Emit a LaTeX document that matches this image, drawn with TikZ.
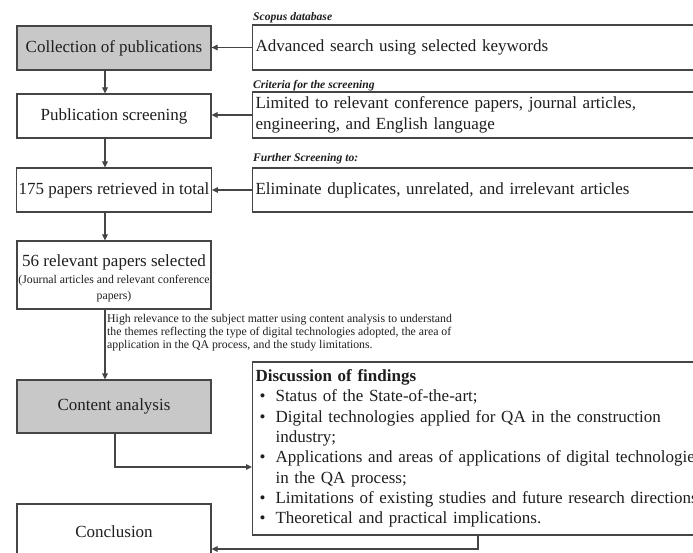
\documentclass[tikz,border=0pt]{standalone}
\usepackage{fontspec}
\setmainfont{Liberation Serif}
\usetikzlibrary{arrows.meta}
\definecolor{lc}{HTML}{454545}
\definecolor{gf}{HTML}{C8C8C8}
\definecolor{tc}{HTML}{1E1E1E}
\newcommand\fsz[2]{\fontsize{#1pt}{#2pt}\selectfont}
\newcommand\bul{\makebox[20pt][l]{\hspace{4pt}\textbullet}}
\begin{document}
\begin{tikzpicture}[x=1pt,y=-1pt,
  box/.style={draw=lc, line width=1.1pt, text=tc, inner sep=2pt, font=\fsz{17}{20.3}},
  lbox/.style={box, minimum width=194pt, align=center},
  rbox/.style={box, minimum width=560pt, text width=554pt, inner xsep=3pt, align=left, anchor=west},
  arr/.style={draw=lc, line width=1.1pt, -{Triangle[length=6pt,width=5.5pt]}},
  lab/.style={font=\fsz{11.6}{13}\bfseries\itshape, text=tc, inner sep=0pt, anchor=base west},
  txt/.style={text=tc, inner sep=0pt}]
\useasboundingbox[fill=white] (0,0) rectangle (693,553);
% left column
\node[lbox, fill=gf, minimum height=44pt] (c1) at (114,48) {Collection of publications};
\node[lbox, minimum height=44pt] (c2) at (114,116) {Publication screening};
\node[lbox, minimum height=44pt] (c3) at (114,190) {175 papers retrieved in total};
\node[lbox, minimum height=68pt] (c4) at (114,275) {};
\node[txt, font=\fsz{17}{20}] (t4a) at (114,262) {56 relevant papers selected};
\node[txt, align=center, font=\fsz{11.8}{16}] (t4b) at (114,288.5) {(Journal articles and relevant conference\\papers)};
\node[lbox, fill=gf, minimum height=53pt] (c5) at (114,406.5) {Content analysis};
\node[lbox, minimum height=56pt] (c6) at (114,532) {Conclusion};
% right column
\node[rbox, minimum height=45pt] (r1) at (252,47.5) {Advanced search using selected keywords};
\node[rbox, minimum height=46pt, font=\fsz{17}{21}] (r2) at (252,115) {Limited to relevant conference papers, journal articles,\\engineering, and English language};
\node[rbox, minimum height=44pt] (r3) at (252,190) {Eliminate duplicates, unrelated, and irrelevant articles};
\node[rbox, minimum height=173pt] (disc) at (252,448.5) {\textbf{Discussion of findings}\\
\bul Status of the State-of-the-art;\\
\bul Digital technologies applied for QA in the construction\\
\hspace*{20pt}industry;\\
\bul Applications and areas of applications of digital technologies\\
\hspace*{20pt}in the QA process;\\
\bul Limitations of existing studies and future research directions\\
\bul Theoretical and practical implications.};
% labels
\node[lab] (l1) at (253,20.5) {Scopus database};
\node[lab] (l2) at (253,89) {Criteria for the screening};
\node[lab] (l3) at (253,162) {Further Screening to:};
\node[txt, anchor=north west, align=left, font=\fsz{11.8}{13}] (ann) at (107,314.5) {High relevance to the subject matter using content analysis to understand\\the themes reflecting the type of digital technologies adopted, the area of\\application in the QA process, and the study limitations.};
% helper coordinates
\coordinate (vx) at (105,0);
\coordinate (k1) at (115,467);
\coordinate (k2) at (478,549);
% connectors
\draw[arr] (r1.west) -- (r1.west -| c1.east);
\draw[arr] (r2.west) -- (r2.west -| c2.east);
\draw[arr] (r3.west) -- (r3.west -| c3.east);
\draw[arr] (c1.south -| vx) -- (c2.north -| vx);
\draw[arr] (c2.south -| vx) -- (c3.north -| vx);
\draw[arr] (c3.south -| vx) -- (c4.north -| vx);
\draw[arr] (c4.south -| vx) -- (c5.north -| vx);
\draw[arr] (c5.south -| k1) |- (disc.west |- k1);
\draw[arr] (disc.south -| k2) |- (c6.east |- k2);
\end{tikzpicture}
\end{document}
